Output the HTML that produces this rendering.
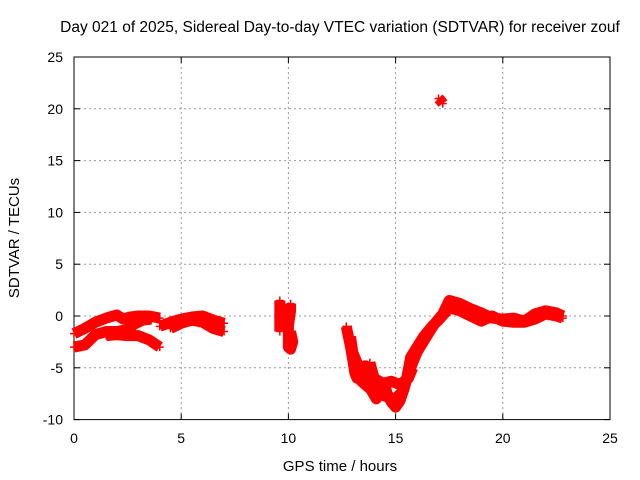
<!DOCTYPE html>
<html><head><meta charset="utf-8"><style>
body{margin:0;background:#fff}
svg{display:block;font-family:"Liberation Sans",sans-serif;font-size:14px}
</style></head><body>
<svg id="c" width="640" height="480"></svg>
<script>
const xTicks=[0,5,10,15,20,25];
const yTicks=[-10,-5,0,5,10,15,20,25];
const traceA=[[0,-1.7],[0.5,-1.2],[1,-0.6],[1.5,-0.2],[2,0.1],[2.3,-0.3],[2.6,-0.1],[3,0],[3.5,0],[4,-0.2]];
const traceB=[[0,-3],[0.5,-2.8],[0.8,-2.2],[1,-1.8],[1.5,-1.5],[2,-1.5],[2.5,-1.3],[2.8,-0.8],[3.2,-0.4],[3.6,-0.3]];
const traceC=[[1.5,-1.9],[2,-1.8],[2.5,-1.9],[3,-1.9],[3.5,-2.3],[4,-3.0]];
const traceD=[[4,-1],[4.5,-0.6],[5,-0.3],[5.5,-0.1],[6,0],[6.5,-0.4],[7,-0.7]];
const traceE=[[4.5,-1.2],[5,-0.7],[5.5,-0.4],[6,-0.6],[6.5,-1.2],[7,-1.5]];
const traceF=[[9.6,1.5],[9.6,-0.5],[9.6,-1.5]];
const traceG=[[10.1,1.2],[10.1,0.5],[10,-1],[10,-2],[10,-3],[10.1,-3.2],[10.2,-2.5],[10.1,-1.5]];
const traceH=[[12.7,-1],[12.8,-2],[12.9,-3],[13,-4.2],[13.1,-5.5],[13.2,-6],[13.4,-5.5],[13.6,-4.8],[13.7,-6],[13.9,-7.3],[14.1,-8],[14.3,-7],[14.5,-6.5],[14.6,-7.5],[14.8,-8.3],[15,-8.8],[15.2,-8.2],[15.4,-7],[15.6,-5.5],[15.8,-4.5],[16,-3.5],[16.2,-2.8],[16.5,-1.8],[16.8,-0.8],[17.2,0.2],[17.5,1.5],[18,1.2],[18.5,0.7],[19,0.3],[19.5,-0.2],[20,-0.3],[20.5,-0.2],[21,-0.5],[21.5,0.2],[22,0.5],[22.5,0.3],[22.8,0]];
const traceI=[[13.8,-4.5],[14,-6],[14.4,-6.5],[14.8,-6.3],[15.2,-6.6],[15.6,-6],[15.8,-5]];
const traceJ=[[17.5,0.8],[18,0.5],[18.5,0],[19,-0.5],[19.5,0],[20,-0.5],[20.5,-0.6],[21,-0.6],[21.5,-0.3],[22,0.2],[22.5,0],[22.8,-0.2]];
const traceK=[[17,21],[17.1,20.8],[17.2,20.5]];
const traceL=[[12.9,-2],[13,-3.5],[13.2,-4.5],[13.4,-6.3],[13.8,-7],[14.2,-7.5],[14.6,-7.8],[15,-8],[15.3,-7.3],[15.5,-6.2],[15.7,-4],[16,-3],[16.3,-2],[16.7,-1],[17,-0.4],[17.4,0.5]];
const traces=[traceA,traceB,traceC,traceD,traceE,traceF,traceG,traceH,traceI,traceJ,traceK,traceL];
const X0=74,X1=610,Y0=419.6,Y1=57;
const sx=v=>X0+(v-0)/25*(X1-X0);
const sy=v=>Y0-(v+10)/35*(Y0-Y1);
const svg=document.getElementById('c');
const NS='http://www.w3.org/2000/svg';
function mk(t,a,p){const e=document.createElementNS(NS,t);for(const k in a)e.setAttribute(k,a[k]);(p||svg).appendChild(e);return e;}
const grid=mk('g',{});


xTicks.forEach(v=>{if(v>0&&v<25)mk('line',{x1:sx(v),x2:sx(v),y1:Y1,y2:Y0,stroke:'#999','stroke-dasharray':'2,3'},grid);
 mk('line',{x1:sx(v),x2:sx(v),y1:Y0,y2:Y0-6,stroke:'#000'},grid);mk('line',{x1:sx(v),x2:sx(v),y1:Y1,y2:Y1+6,stroke:'#000'},grid);
 const t=mk('text',{x:sx(v),y:443,'text-anchor':'middle'});t.textContent=v;
 
 });
yTicks.forEach(v=>{if(v>-10&&v<25)mk('line',{x1:X0,x2:X1,y1:sy(v),y2:sy(v),stroke:'#999','stroke-dasharray':'2,3'},grid);
 mk('line',{x1:X0,x2:X0+6,y1:sy(v),y2:sy(v),stroke:'#000'},grid);mk('line',{x1:X1,x2:X1-6,y1:sy(v),y2:sy(v),stroke:'#000'},grid);
 const t=mk('text',{x:63,y:sy(v)+5,'text-anchor':'end'});t.textContent=v;
 
 });
const fr=mk('rect',{x:X0,y:Y1,width:X1-X0,height:Y0-Y1,fill:'none',stroke:'#000'});


const series=mk('g',{});


traces.forEach(tr=>{
 const pl=mk('polyline',{points:tr.map(p=>sx(p[0])+','+sy(p[1])).join(' '),fill:'none',stroke:'#f00','stroke-width':11,'stroke-linejoin':'round','stroke-linecap':'butt'},series);
 
 
 tr.forEach(p=>{const x=sx(p[0]),y=sy(p[1]);
  const m=mk('path',{d:`M${x-4},${y}h8M${x},${y-4}v8`,stroke:'#f00','stroke-width':1.5},series);
  
  });
});
const ti=mk('text',{x:340,y:32,'text-anchor':'middle','font-size':'15.5'});ti.textContent='Day 021 of 2025, Sidereal Day-to-day VTEC variation (SDTVAR) for receiver zouf';


const xl=mk('text',{x:340,y:471,'text-anchor':'middle','font-size':'15'});xl.textContent='GPS time / hours';


const yl=mk('text',{x:19,y:238,'text-anchor':'middle','font-size':'15',transform:'rotate(-90 19 238)'});yl.textContent='SDTVAR / TECUs';


</script>
</body></html>
